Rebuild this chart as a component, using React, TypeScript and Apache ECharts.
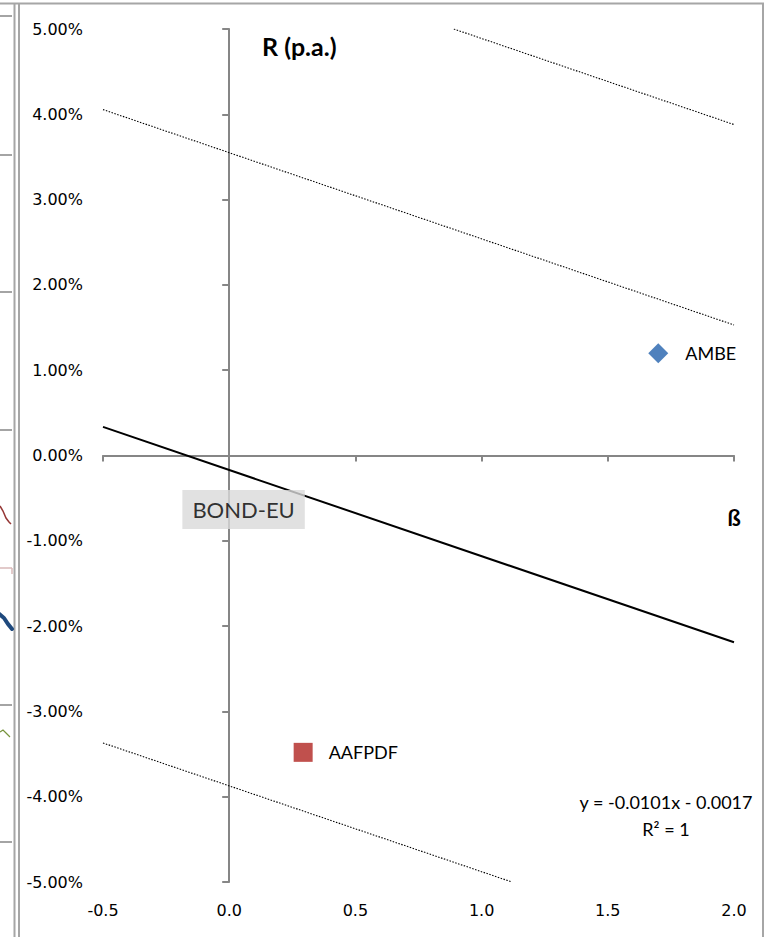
import React, { useEffect, useRef } from "react";
import * as echarts from "echarts";

// ---- axes ----
const betaMin = -0.5;
const betaMax = 2.0;
const betaStep = 0.5;
const returnMin = -5;
const returnMax = 5;
const returnStep = 1;

// ---- lines (beta, return in %) ----
const regressionLine = [
  [-0.5, 0.335],
  [2.0, -2.19],
];
const upperBand = [
  [-0.5, 4.055],
  [2.0, 1.53],
];
const outerUpperBand = [
  [0.89, 5.0],
  [2.0, 3.88],
];
const lowerBand = [
  [-0.5, -3.37],
  [1.12, -5.0],
];

// ---- points ----
const fundNames = ["AMBE", "AAFPDF"];
const fundBetas = [1.7, 0.293];
const fundReturns = [1.2, -3.48];

const benchmarkName = "BOND-EU";
const benchmarkBeta = 0.057;
const benchmarkReturn = -0.633;

const equationLines = ["y = -0.0101x - 0.0017", "R² = 1"];

const TICK_FONT = "DejaVu Sans";
const LABEL_FONT = "Lato";
const AXIS_GREY = "#868686";

export default function App() {
  const ref = useRef<HTMLDivElement>(null);

  useEffect(() => {
    document.body.style.margin = "0";
    const chart = echarts.init(ref.current!, null, { renderer: "svg" });

    const leftGridYs = [16, 155, 292, 430, 568, 705, 842];
    const leftGrid = leftGridYs.map((y, i) => ({
      type: "line",
      shape: { x1: 0, y1: y, x2: 12, y2: y },
      style: { stroke: i === 4 ? "#d9b8b8" : AXIS_GREY, lineWidth: 1.5 },
      silent: true,
    }));

    const dotted = { color: "#000", width: 1.1, type: [1.5, 1.5] };

    chart.setOption({
      animation: false,
      backgroundColor: "#ffffff",
      grid: {
        left: 103,
        top: 29,
        width: 631,
        height: 853,
        containLabel: false,
        outerBoundsMode: "none",
      },
      xAxis: {
        type: "value",
        min: betaMin,
        max: betaMax,
        interval: betaStep,
        axisLine: { show: true, onZero: true, lineStyle: { color: AXIS_GREY, width: 2 } },
        axisTick: { show: true, length: 6, lineStyle: { color: AXIS_GREY, width: 2 } },
        splitLine: { show: false },
        axisLabel: {
          margin: 20,
          formatter: (v: number) => v.toFixed(1),
          fontFamily: TICK_FONT,
          fontSize: 16,
          color: "#000",
        },
      },
      yAxis: {
        type: "value",
        min: returnMin,
        max: returnMax,
        interval: returnStep,
        axisLine: { show: true, onZero: true, lineStyle: { color: AXIS_GREY, width: 2 } },
        axisTick: { show: true, length: 7, lineStyle: { color: AXIS_GREY, width: 2 } },
        splitLine: { show: false },
        axisLabel: {
          margin: 20,
          formatter: (v: number) => v.toFixed(2) + "%",
          fontFamily: TICK_FONT,
          fontSize: 16,
          color: "#000",
        },
      },
      series: [
        {
          type: "line",
          data: regressionLine,
          symbol: "none",
          lineStyle: { color: "#000", width: 2, type: "solid" },
          silent: true,
          z: 3,
        },
        { type: "line", data: upperBand, symbol: "none", lineStyle: dotted, silent: true, z: 3 },
        { type: "line", data: outerUpperBand, symbol: "none", lineStyle: dotted, silent: true, z: 3 },
        { type: "line", data: lowerBand, symbol: "none", lineStyle: dotted, silent: true, z: 3 },
        {
          type: "scatter",
          name: fundNames[0],
          data: [[fundBetas[0], fundReturns[0]]],
          symbol: "diamond",
          symbolSize: 20,
          itemStyle: { color: "#4F81BD", opacity: 1 },
          label: {
            show: true,
            position: "right",
            distance: 17,
            formatter: fundNames[0],
            fontFamily: LABEL_FONT,
            fontSize: 18,
            color: "#000",
          },
          z: 4,
        },
        {
          type: "scatter",
          name: fundNames[1],
          data: [[fundBetas[1], fundReturns[1]]],
          symbol: "rect",
          symbolSize: 19,
          itemStyle: { color: "#C0504D", opacity: 1 },
          label: {
            show: true,
            position: "right",
            distance: 16,
            formatter: fundNames[1],
            fontFamily: LABEL_FONT,
            fontSize: 18,
            color: "#000",
          },
          z: 4,
        },
        {
          type: "scatter",
          name: benchmarkName,
          data: [[benchmarkBeta, benchmarkReturn]],
          symbolSize: 0.1,
          itemStyle: { color: "rgba(0,0,0,0)" },
          label: {
            show: true,
            position: "inside",
            formatter: benchmarkName,
            backgroundColor: "#D9D9D9",
            padding: [9, 10, 8, 10],
            fontFamily: LABEL_FONT,
            fontSize: 22,
            color: "#000",
          },
          z: 5,
        },
      ],
      graphic: [
        { type: "line", shape: { x1: 0, y1: 3.5, x2: 764, y2: 3.5 }, style: { stroke: "#a6a6a6", lineWidth: 2 }, silent: true },
        { type: "line", shape: { x1: 14.5, y1: 3, x2: 14.5, y2: 937 }, style: { stroke: "#a6a6a6", lineWidth: 2 }, silent: true },
        { type: "line", shape: { x1: 19, y1: 3, x2: 19, y2: 937 }, style: { stroke: "#a6a6a6", lineWidth: 2 }, silent: true },
        { type: "line", shape: { x1: 763, y1: 3, x2: 763, y2: 937 }, style: { stroke: "#a6a6a6", lineWidth: 2 }, silent: true },
        ...leftGrid,
        { type: "line", shape: { x1: 12, y1: 568, x2: 12, y2: 574 }, style: { stroke: "#d9b8b8", lineWidth: 1.5 }, silent: true },
        { type: "polyline", shape: { points: [[0, 506], [3, 511], [6, 518], [9, 522], [11, 524]] }, style: { stroke: "#953735", lineWidth: 1.5, fill: "none" }, silent: true },
        { type: "polyline", shape: { points: [[-2, 613], [4, 618], [8, 624], [12, 629]] }, style: { stroke: "#1F497D", lineWidth: 4, fill: "none", lineCap: "round" }, silent: true },
        { type: "polyline", shape: { points: [[0, 732], [3, 730], [6, 733], [10, 737]] }, style: { stroke: "#77933C", lineWidth: 1.2, fill: "none" }, silent: true },
        {
          type: "text",
          x: 262,
          y: 46,
          style: { text: "R (p.a.)", font: "bold 25px Lato", fill: "#000", align: "left", verticalAlign: "middle" },
          silent: true,
        },
        {
          type: "text",
          x: 734,
          y: 517,
          style: { text: "ß", font: "bold 22px Lato", fill: "#000", align: "center", verticalAlign: "middle" },
          silent: true,
        },
        {
          type: "text",
          x: 666,
          y: 802,
          style: { text: equationLines[0], font: "18px Lato", fill: "#000", align: "center", verticalAlign: "middle" },
          silent: true,
        },
        {
          type: "text",
          x: 666,
          y: 829,
          style: { text: equationLines[1], font: "18px Lato", fill: "#000", align: "center", verticalAlign: "middle" },
          silent: true,
        },
      ],
    });

    return () => chart.dispose();
  }, []);

  return (
    <div
      ref={ref}
      style={{ position: "absolute", left: 0, top: 0, width: 765, height: 937, background: "#fff" }}
    />
  );
}
